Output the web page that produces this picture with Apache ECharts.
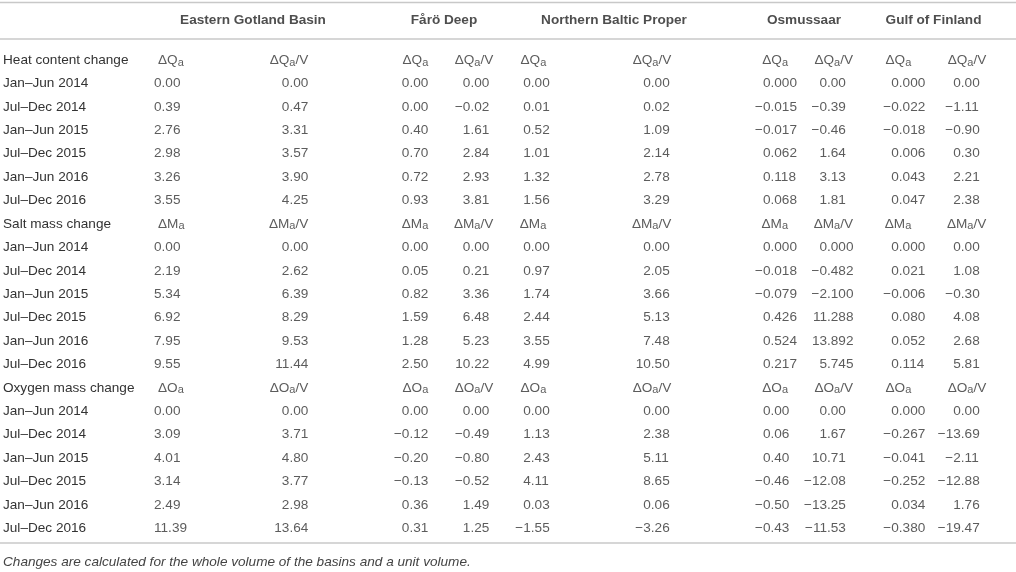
<!DOCTYPE html>
<html>
<head>
    <meta charset="utf-8" />
    <title>Heat, salt and oxygen changes</title>
    <style>
        html, body { margin: 0; padding: 0; background: #fff; }
        #table { width: 1016px; height: 572px; }
    </style>
</head>
<body>
    <div id="table"></div>
    <script src="https://cdn.jsdelivr.net/npm/echarts@6/dist/echarts.min.js"></script>
    <script>
        var regions = ['Eastern Gotland Basin', 'Fårö Deep', 'Northern Baltic Proper', 'Osmussaar', 'Gulf of Finland'];
        var sections = ['Heat content change', 'Salt mass change', 'Oxygen mass change'];
        var symbols = ['Q', 'M', 'O'];
        var periods = ['Jan–Jun 2014', 'Jul–Dec 2014', 'Jan–Jun 2015', 'Jul–Dec 2015', 'Jan–Jun 2016', 'Jul–Dec 2016'];

        // one row per period, two columns (total, per unit volume) per region
        var heat = [
            ['0.00', '0.00', '0.00', '0.00', '0.00', '0.00', '0.000', '0.00', '0.000', '0.00'],
            ['0.39', '0.47', '0.00', '−0.02', '0.01', '0.02', '−0.015', '−0.39', '−0.022', '−1.11'],
            ['2.76', '3.31', '0.40', '1.61', '0.52', '1.09', '−0.017', '−0.46', '−0.018', '−0.90'],
            ['2.98', '3.57', '0.70', '2.84', '1.01', '2.14', '0.062', '1.64', '0.006', '0.30'],
            ['3.26', '3.90', '0.72', '2.93', '1.32', '2.78', '0.118', '3.13', '0.043', '2.21'],
            ['3.55', '4.25', '0.93', '3.81', '1.56', '3.29', '0.068', '1.81', '0.047', '2.38']
        ];
        var salt = [
            ['0.00', '0.00', '0.00', '0.00', '0.00', '0.00', '0.000', '0.000', '0.000', '0.00'],
            ['2.19', '2.62', '0.05', '0.21', '0.97', '2.05', '−0.018', '−0.482', '0.021', '1.08'],
            ['5.34', '6.39', '0.82', '3.36', '1.74', '3.66', '−0.079', '−2.100', '−0.006', '−0.30'],
            ['6.92', '8.29', '1.59', '6.48', '2.44', '5.13', '0.426', '11.288', '0.080', '4.08'],
            ['7.95', '9.53', '1.28', '5.23', '3.55', '7.48', '0.524', '13.892', '0.052', '2.68'],
            ['9.55', '11.44', '2.50', '10.22', '4.99', '10.50', '0.217', '5.745', '0.114', '5.81']
        ];
        var oxygen = [
            ['0.00', '0.00', '0.00', '0.00', '0.00', '0.00', '0.00', '0.00', '0.000', '0.00'],
            ['3.09', '3.71', '−0.12', '−0.49', '1.13', '2.38', '0.06', '1.67', '−0.267', '−13.69'],
            ['4.01', '4.80', '−0.20', '−0.80', '2.43', '5.11', '0.40', '10.71', '−0.041', '−2.11'],
            ['3.14', '3.77', '−0.13', '−0.52', '4.11', '8.65', '−0.46', '−12.08', '−0.252', '−12.88'],
            ['2.49', '2.98', '0.36', '1.49', '0.03', '0.06', '−0.50', '−13.25', '0.034', '1.76'],
            ['11.39', '13.64', '0.31', '1.25', '−1.55', '−3.26', '−0.43', '−11.53', '−0.380', '−19.47']
        ];
        var footnote = 'Changes are calculated for the whole volume of the basins and a unit volume.';

        // layout (x in page pixels)
        var FONT = "'Liberation Sans', Arial, sans-serif";
        var FS = 13.6;
        var regionX = [253, 444, 614, 804, 933.5];
        var colX = [154, 289.4, 409.4, 470.4, 530.8, 650.8, 770.5, 827, 898.8, 960.8]; // decimal point, first column left edge
        var subX = [158, 308.3, 428.3, 493.3, 546.3, 671.3, 788, 853, 911.3, 986.3];

        var rows = [];
        sections.forEach(function (s) {
            rows.push(s);
            periods.forEach(function (p) { rows.push(p); });
        });

        function cell(x, y, text, pos) {
            return { value: [x, y], text: text, label: { position: pos } };
        }

        var cells = [];
        [heat, salt, oxygen].forEach(function (block, k) {
            var r0 = k * 7;
            for (var c = 0; c < 10; c++) {
                var t = '{n|Δ' + symbols[k] + '}{s|a}' + (c % 2 ? '{n|/V}' : '');
                cells.push(cell(subX[c], r0, t, c === 0 ? 'right' : 'left'));
            }
            block.forEach(function (row, i) {
                row.forEach(function (v, c) {
                    if (c === 0) {
                        cells.push(cell(colX[c], r0 + i + 1, v, 'right'));
                    } else {
                        var p = v.split('.');
                        cells.push(cell(colX[c], r0 + i + 1, p[0], 'left'));
                        cells.push(cell(colX[c], r0 + i + 1, '.' + p[1], 'right'));
                    }
                });
            });
        });

        var hidden = { show: false };
        option = {
            backgroundColor: '#fff',
            animation: false,
            textStyle: { fontFamily: FONT },
            grid: [
                { left: 0, right: 0, top: 0, height: 41 },
                { left: 0, right: 0, top: 48.3, height: 491.8 }
            ],
            xAxis: [
                { type: 'value', gridIndex: 0, min: 0, max: 1016, show: false },
                { type: 'value', gridIndex: 1, min: 0, max: 1016, show: false }
            ],
            yAxis: [
                { type: 'category', gridIndex: 0, data: ['regions'], show: false },
                {
                    type: 'category',
                    gridIndex: 1,
                    data: rows,
                    inverse: true,
                    axisLine: hidden,
                    axisTick: hidden,
                    splitLine: hidden,
                    axisLabel: {
                        interval: 0,
                        align: 'left',
                        margin: -3,
                        color: '#333',
                        fontFamily: FONT,
                        fontSize: FS
                    }
                }
            ],
            series: [{
                type: 'scatter',
                xAxisIndex: 0,
                yAxisIndex: 0,
                symbolSize: 0,
                silent: true,
                itemStyle: { color: 'transparent' },
                data: regions.map(function (r, i) { return { value: [regionX[i], 0], text: r }; }),
                label: {
                    show: true,
                    position: 'inside',
                    formatter: function (p) { return p.data.text; },
                    fontFamily: FONT,
                    fontSize: FS,
                    fontWeight: 'bold',
                    color: '#222'
                }
            }, {
                type: 'scatter',
                xAxisIndex: 1,
                yAxisIndex: 1,
                symbolSize: 0,
                silent: true,
                itemStyle: { color: 'transparent' },
                data: cells,
                label: {
                    show: true,
                    distance: 0,
                    formatter: function (p) { return p.data.text; },
                    fontFamily: FONT,
                    fontSize: FS,
                    color: '#333',
                    rich: {
                        n: { fontFamily: FONT, fontSize: FS, lineHeight: 16, color: '#333' },
                        s: { fontFamily: FONT, fontSize: 11, lineHeight: 9, verticalAlign: 'bottom', color: '#333' }
                    }
                }
            }],
            graphic: [
                { type: 'line', silent: true, shape: { x1: 0, y1: 2.5, x2: 1016, y2: 2.5 }, style: { stroke: '#c8c8c8', lineWidth: 1.5 } },
                { type: 'line', silent: true, shape: { x1: 0, y1: 39, x2: 1016, y2: 39 }, style: { stroke: '#c8c8c8', lineWidth: 1.5 } },
                { type: 'line', silent: true, shape: { x1: 0, y1: 543, x2: 1016, y2: 543 }, style: { stroke: '#c8c8c8', lineWidth: 1.5 } },
                {
                    type: 'text',
                    silent: true,
                    style: {
                        x: 3,
                        y: 562,
                        text: footnote,
                        verticalAlign: 'middle',
                        font: 'italic ' + FS + 'px ' + FONT,
                        fill: '#444'
                    }
                }
            ]
        };

        var table = echarts.init(document.getElementById('table'));
        table.setOption(option);
    </script>
</body>
</html>
